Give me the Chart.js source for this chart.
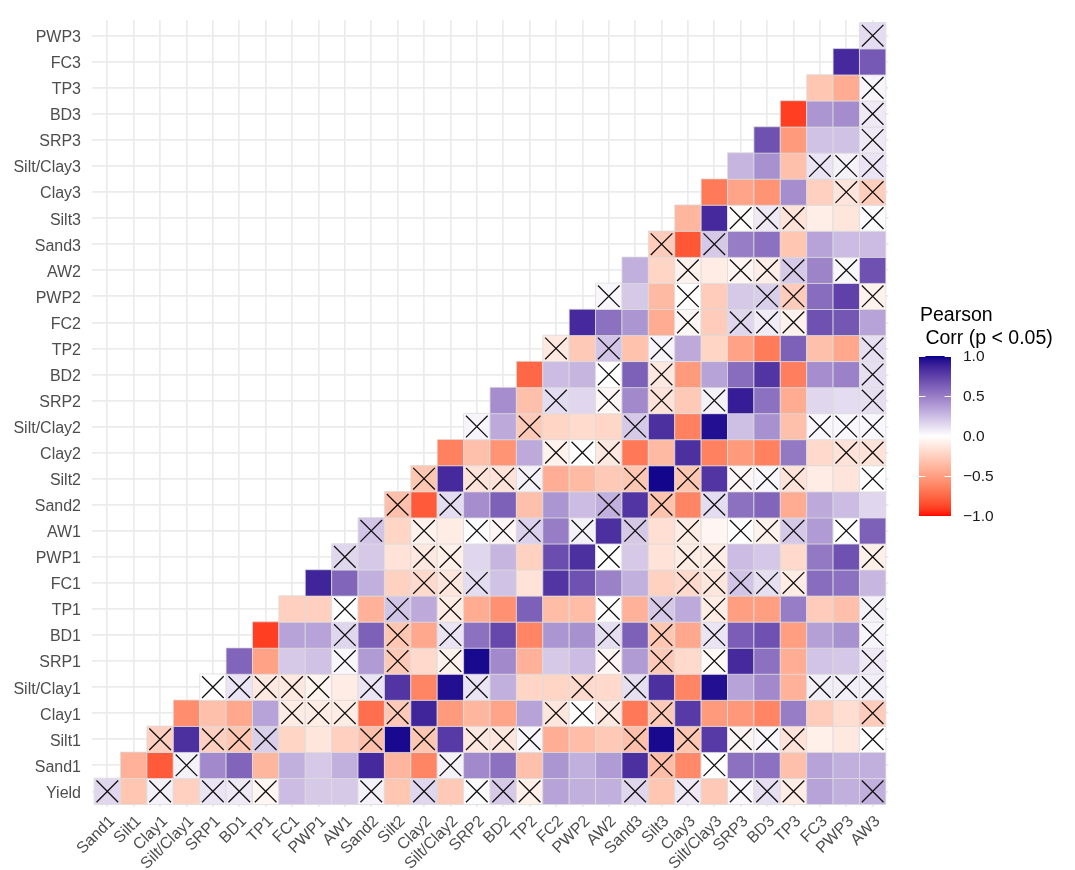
<!DOCTYPE html>
<html>
<head>
<meta charset="utf-8">
<script src="https://cdn.jsdelivr.net/npm/chart.js@4.4.1/dist/chart.umd.min.js"></script>
<style>
  html, body { margin: 0; padding: 0; background: #fff; overflow: hidden; }
  canvas { display: block; }
</style>
</head>
<body>
<canvas id="corr" width="1075" height="870"></canvas>
<script>
// variables along the axes
const xLabels = ["Sand1","Silt1","Clay1","Silt/Clay1","SRP1","BD1","TP1","FC1","PWP1","AW1",
  "Sand2","Silt2","Clay2","Silt/Clay2","SRP2","BD2","TP2","FC2","PWP2","AW2",
  "Sand3","Silt3","Clay3","Silt/Clay3","SRP3","BD3","TP3","FC3","PWP3","AW3"];
const yLabels = ["Yield","Sand1","Silt1","Clay1","Silt/Clay1","SRP1","BD1","TP1","FC1","PWP1",
  "AW1","Sand2","Silt2","Clay2","Silt/Clay2","SRP2","BD2","TP2","FC2","PWP2",
  "AW2","Sand3","Silt3","Clay3","Silt/Clay3","SRP3","BD3","TP3","FC3","PWP3"];

// r[i] = Pearson r of yLabels[i] with xLabels[i..29] (lower triangle)
const r = [
  [0.15,-0.30,0.05,-0.25,0.10,0.08,-0.05,0.25,0.20,0.20, 0.05,-0.30,0.15,-0.28,0.02,0.20,-0.08,0.35,0.30,0.30, 0.15,-0.30,0.08,-0.28,0.03,0.12,-0.10,0.35,0.30,0.30],
  [-0.40,-0.80,0.05,0.45,0.60,-0.38,0.30,0.20,0.30, 0.85,-0.38,-0.62,0.05,0.45,0.55,-0.33,0.40,0.30,0.38, 0.82,-0.35,-0.60,0.00,0.55,0.55,-0.33,0.35,0.30,0.30],
  [-0.25,0.82,-0.25,-0.30,0.18,-0.22,-0.13,-0.25, -0.33,0.97,-0.30,0.78,-0.12,-0.13,0.03,-0.42,-0.35,-0.28, -0.33,0.97,-0.30,0.78,-0.05,0.03,-0.15,-0.08,-0.12,0.00],
  [-0.58,-0.33,-0.45,0.35,-0.10,-0.10,-0.10, -0.72,-0.28,0.87,-0.52,-0.38,-0.47,0.35,-0.13,0.00,-0.12, -0.68,-0.28,0.78,-0.52,-0.53,-0.62,0.50,-0.27,-0.18,-0.27],
  [0.00,0.10,-0.12,-0.12,-0.06,-0.10, 0.10,0.80,-0.62,0.95,0.10,0.30,-0.22,-0.22,-0.20,-0.20, 0.12,0.82,-0.62,0.95,0.35,0.45,-0.40,0.06,0.06,0.06],
  [0.60,-0.48,0.20,0.23,0.03, 0.38,-0.28,-0.20,-0.07,0.97,0.45,-0.40,0.20,0.25,-0.05, 0.38,-0.28,-0.20,-0.03,0.85,0.55,-0.42,0.22,0.21,0.08],
  [-0.90,0.35,0.35,0.15, 0.62,-0.30,-0.45,0.10,0.55,0.72,-0.62,0.40,0.42,0.12, 0.62,-0.30,-0.45,0.10,0.63,0.68,-0.50,0.36,0.42,0.04],
  [-0.25,-0.25,0.00, -0.40,0.22,0.32,-0.10,-0.43,-0.57,0.62,-0.35,-0.35,0.00, -0.40,0.20,0.32,-0.10,-0.50,-0.50,0.50,-0.27,-0.33,0.05],
  [0.87,0.60, 0.30,-0.24,-0.20,-0.13,0.13,0.23,-0.15,0.80,0.68,0.48, 0.30,-0.24,-0.20,-0.13,0.22,0.12,-0.10,0.57,0.55,0.27],
  [0.15, 0.20,-0.15,-0.12,-0.08,0.15,0.28,-0.24,0.70,0.82,0.00, 0.20,-0.15,-0.10,-0.10,0.25,0.21,-0.20,0.52,0.68,-0.08],
  [0.22,-0.22,-0.07,-0.10,0.01,-0.04,0.17,0.50,0.05,0.82, 0.20,-0.17,-0.10,-0.05,0.00,-0.07,0.20,0.38,0.00,0.62],
  [-0.33,-0.80,0.13,0.43,0.62,-0.33,0.40,0.25,0.30, 0.80,-0.32,-0.62,0.13,0.55,0.60,-0.43,0.32,0.25,0.15],
  [-0.30,0.85,-0.15,-0.15,0.05,-0.42,-0.36,-0.28, -0.30,0.98,-0.30,0.80,-0.04,0.03,-0.15,-0.10,-0.14,0.00],
  [-0.64,-0.33,-0.55,0.32,-0.07,0.00,-0.12, -0.68,-0.36,0.82,-0.64,-0.52,-0.64,0.52,-0.20,-0.15,-0.15],
  [0.04,0.32,-0.28,-0.22,-0.19,-0.21, 0.20,0.82,-0.64,0.95,0.24,0.42,-0.33,0.03,0.03,0.03],
  [0.43,-0.33,0.13,0.15,-0.04, 0.45,-0.15,-0.28,0.05,0.90,0.55,-0.43,0.15,0.13,0.12],
  [-0.75,0.25,0.28,0.00, 0.62,-0.12,-0.52,0.35,0.57,0.80,-0.65,0.43,0.48,0.12],
  [-0.12,-0.28,0.22, -0.32,0.04,0.32,-0.22,-0.48,-0.66,0.62,-0.33,-0.45,0.12],
  [0.85,0.55, 0.40,-0.43,-0.04,-0.27,0.15,0.07,-0.07,0.68,0.66,0.35],
  [0.03, 0.20,-0.36,0.00,-0.27,0.20,0.18,-0.27,0.57,0.75,-0.07],
  [0.30,-0.22,-0.07,-0.10,-0.05,-0.09,0.20,0.47,0.03,0.68],
  [-0.27,-0.82,0.20,0.50,0.55,-0.30,0.35,0.25,0.25],
  [-0.38,0.85,-0.01,0.08,-0.15,-0.09,-0.13,0.02],
  [-0.67,-0.47,-0.55,0.43,-0.25,-0.14,-0.26],
  [0.28,0.42,-0.33,0.10,0.05,0.10],
  [0.68,-0.52,0.23,0.23,0.08],
  [-0.90,0.40,0.44,0.08],
  [-0.30,-0.43,0.04],
  [0.85,0.65],
  [0.13]
];

// 1 = not significant (p >= 0.05), drawn with a cross
const ns = [
  [1,0,1,0,1,1,1,0,0,0, 1,0,1,0,1,1,1,0,0,0, 1,0,1,0,1,1,1,0,0,1],
  [0,0,1,0,0,0,0,0,0, 0,0,0,1,0,0,0,0,0,0, 0,1,0,1,0,0,0,0,0,0],
  [1,0,1,1,1,0,0,0, 1,0,1,0,1,1,1,0,0,0, 1,0,1,0,1,1,1,0,0,1],
  [0,0,0,0,1,1,1, 0,1,0,0,0,0,0,1,1,1, 0,1,0,0,0,0,0,0,0,1],
  [1,1,1,1,1,0, 1,0,0,0,1,0,0,0,1,0, 1,0,0,0,0,0,0,1,1,1],
  [0,0,0,0,1, 0,1,0,1,0,0,0,0,0,1, 0,1,0,1,0,0,0,0,0,1],
  [0,0,0,1, 0,1,0,1,0,0,0,0,0,1, 0,1,0,1,0,0,0,0,0,1],
  [0,0,1, 0,1,0,1,0,0,0,0,0,1, 0,1,0,1,0,0,0,0,0,1],
  [0,0, 0,0,1,1,1,0,0,0,0,0, 0,0,1,1,1,1,1,0,0,0],
  [1, 0,0,1,1,0,0,0,0,0,1, 0,0,1,1,0,0,0,0,0,1],
  [1,0,1,0,1,1,1,0,1,0, 1,0,1,0,1,1,1,0,1,0],
  [1,0,1,0,0,0,0,0,1, 0,1,0,1,0,0,0,0,0,0],
  [1,0,1,1,1,0,0,0, 1,0,1,0,1,1,1,0,0,1],
  [0,0,0,0,1,1,1, 0,0,0,0,0,0,0,0,1,1],
  [1,0,1,0,0,0, 1,0,0,0,0,0,0,1,1,1],
  [0,0,1,0,1, 0,1,0,1,0,0,0,0,0,1],
  [0,0,0,1, 0,1,0,0,0,0,0,0,0,1],
  [1,0,1, 0,1,0,0,0,0,0,0,0,1],
  [0,0, 0,0,1,0,1,1,1,0,0,0],
  [1, 0,0,1,0,0,1,1,0,0,1],
  [0,0,1,0,1,1,1,0,1,0],
  [1,0,1,0,0,0,0,0,0],
  [0,0,1,1,1,0,0,1],
  [0,0,0,0,0,1,1],
  [0,0,0,1,1,1],
  [0,0,0,0,1],
  [0,0,0,1],
  [0,0,1],
  [0,0],
  [1]
];

const legendBreaks = [1, 0.5, 0, -0.5, -1];
const legendTickLabels = ["1.0", "0.5", "0.0", "\u22120.5", "\u22121.0"];

// colour scale: red - white - darkblue, interpolated in Lab like ggplot
const LOW = [255, 0, 0], MID = [255, 255, 255], HIGH = [0, 0, 139];

function toLin(c) { c /= 255; return c <= 0.04045 ? c / 12.92 : Math.pow((c + 0.055) / 1.055, 2.4); }
function fromLin(c) {
  const v = c <= 0.0031308 ? 12.92 * c : 1.055 * Math.pow(c, 1 / 2.4) - 0.055;
  return Math.round(Math.max(0, Math.min(1, v)) * 255);
}
function rgb2lab(rgb) {
  const R = toLin(rgb[0]), G = toLin(rgb[1]), B = toLin(rgb[2]);
  const X = (0.4124 * R + 0.3576 * G + 0.1805 * B) / 0.95047;
  const Y = 0.2126 * R + 0.7152 * G + 0.0722 * B;
  const Z = (0.0193 * R + 0.1192 * G + 0.9505 * B) / 1.08883;
  const f = t => t > 0.008856 ? Math.cbrt(t) : 7.787 * t + 16 / 116;
  const fx = f(X), fy = f(Y), fz = f(Z);
  return [116 * fy - 16, 500 * (fx - fy), 200 * (fy - fz)];
}
function lab2rgb(L, a, b) {
  const fy = (L + 16) / 116, fx = fy + a / 500, fz = fy - b / 200;
  const inv = t => t * t * t > 0.008856 ? t * t * t : (t - 16 / 116) / 7.787;
  const X = inv(fx) * 0.95047, Y = inv(fy), Z = inv(fz) * 1.08883;
  const R = 3.2406 * X - 1.5372 * Y - 0.4986 * Z;
  const G = -0.9689 * X + 1.8758 * Y + 0.0415 * Z;
  const B = 0.0557 * X - 0.2040 * Y + 1.0570 * Z;
  return `rgb(${fromLin(R)},${fromLin(G)},${fromLin(B)})`;
}
const labLow = rgb2lab(LOW), labMid = rgb2lab(MID), labHigh = rgb2lab(HIGH);
function colorFor(v) {
  v = Math.max(-1, Math.min(1, v));
  const end = v < 0 ? labLow : labHigh, t = Math.abs(v);
  return lab2rgb(labMid[0] + (end[0] - labMid[0]) * t,
                 labMid[1] + (end[1] - labMid[1]) * t,
                 labMid[2] + (end[2] - labMid[2]) * t);
}

// build points
const cells = [], crosses = [];
r.forEach((row, i) => {
  row.forEach((v, k) => {
    const j = i + k;
    cells.push({ x: j, y: i, v: v });
    if (ns[i][k]) crosses.push({ x: j, y: i });
  });
});

function cellPx(chart) {
  const s = chart.scales.x;
  if (!s || !s.width) return 26;
  return Math.abs(s.getPixelForValue(1) - s.getPixelForValue(0));
}

// gradient colour bar on the right
const colorBar = {
  id: "colorBar",
  afterDraw(chart) {
    const ctx = chart.ctx;
    const left = 919, w = 32, mid = 436, half = 80;
    ctx.save();
    for (let py = mid - half; py < mid + half; py++) {
      ctx.fillStyle = colorFor((mid - py - 0.5) / half);
      ctx.fillRect(left, py, w, 1);
    }
    ctx.strokeStyle = "#ffffff";
    ctx.lineWidth = 1;
    legendBreaks.forEach(b => {
      const py = Math.round(mid - b * half) + 0.5;
      ctx.beginPath();
      ctx.moveTo(left, py); ctx.lineTo(left + 6.4, py);
      ctx.moveTo(left + w - 6.4, py); ctx.lineTo(left + w, py);
      ctx.stroke();
    });
    ctx.fillStyle = "#1a1a1a";
    ctx.textBaseline = "middle";
    ctx.textAlign = "left";
    ctx.font = "15.5px 'Liberation Sans', Arial, sans-serif";
    legendBreaks.forEach((b, i) => ctx.fillText(legendTickLabels[i], 963, mid - b * half + 1));
    ctx.font = "19.5px 'Liberation Sans', Arial, sans-serif";
    ctx.fillStyle = "#000000";
    ctx.fillText("Pearson", 920, 316);
    ctx.fillText(" Corr (p < 0.05)", 920, 339);
    ctx.restore();
  }
};

const tickFont = { family: "'Liberation Sans', Arial, sans-serif", size: 16 };

new Chart(document.getElementById("corr"), {
  type: "scatter",
  data: {
    datasets: [
      {
        label: "r",
        data: cells,
        order: 2,
        pointStyle: "rect",
        pointRadius: ctx => cellPx(ctx.chart) / Math.SQRT2,
        pointBackgroundColor: ctx => colorFor(ctx.raw ? ctx.raw.v : 0),
        pointBorderColor: "#dcdcdc",
        pointBorderWidth: 0.8
      },
      {
        label: "p >= 0.05",
        data: crosses,
        order: 1,
        pointStyle: "crossRot",
        pointRadius: ctx => cellPx(ctx.chart) * 0.82 / Math.SQRT2,
        pointBackgroundColor: "rgba(0,0,0,0)",
        pointBorderColor: "#111111",
        pointBorderWidth: 1.3
      }
    ]
  },
  options: {
    responsive: false,
    devicePixelRatio: 1,
    animation: false,
    events: [],
    layout: { padding: { top: 10.2, right: 186.5, bottom: 0, left: 0 } },
    plugins: { legend: { display: false }, tooltip: { enabled: false } },
    scales: {
      x: {
        type: "linear",
        position: "bottom",
        min: -0.6,
        max: 29.6,
        afterBuildTicks: s => { s.ticks = xLabels.map((_, i) => ({ value: i })); },
        afterFit: s => { s.height = 63; },
        ticks: {
          callback: v => xLabels[v],
          autoSkip: false,
          minRotation: 45,
          maxRotation: 45,
          padding: 5,
          labelOffset: 5,
          color: "#4d4d4d",
          font: tickFont
        },
        grid: { color: "#ebebeb", lineWidth: 1.7, drawTicks: false },
        border: { display: false }
      },
      y: {
        type: "linear",
        min: -0.6,
        max: 29.6,
        afterBuildTicks: s => { s.ticks = yLabels.map((_, i) => ({ value: i })); },
        afterFit: s => { s.width = 91.5; },
        ticks: {
          callback: v => yLabels[v],
          autoSkip: false,
          padding: 10.5,
          labelOffset: 2,
          color: "#4d4d4d",
          font: tickFont
        },
        grid: { color: "#ebebeb", lineWidth: 1.7, drawTicks: false },
        border: { display: false }
      }
    }
  },
  plugins: [colorBar]
});
</script>
</body>
</html>
